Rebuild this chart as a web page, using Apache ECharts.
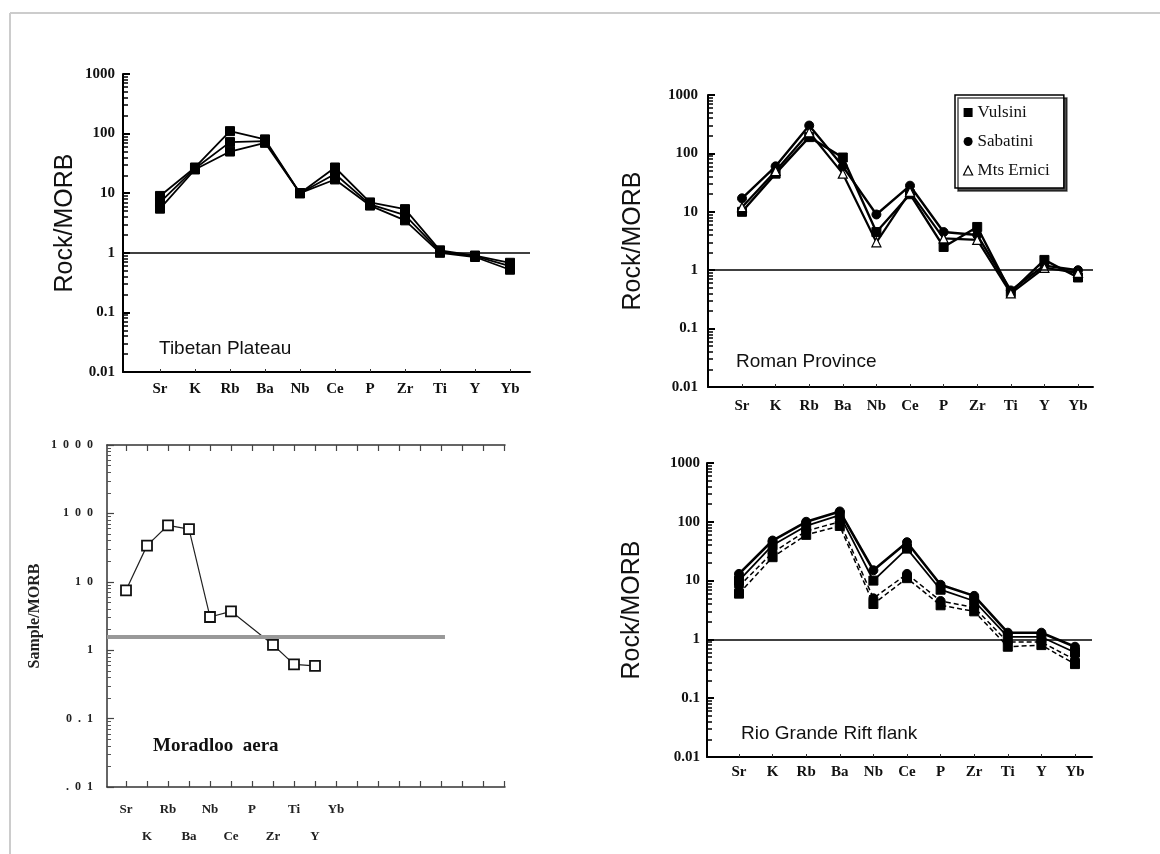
<!DOCTYPE html>
<html>
<head>
<meta charset="utf-8">
<script src="https://cdn.jsdelivr.net/npm/echarts@6/dist/echarts.min.js"></script>
<style>html,body{margin:0;padding:0;background:#fff}#c{width:1160px;height:854px}</style>
</head>
<body>
<div id="c"></div>
<script>
// ---------- DATA ----------
const elements = ['Sr','K','Rb','Ba','Nb','Ce','P','Zr','Ti','Y','Yb'];
const logTickLabels = ['0.01','0.1','1','10','100','1000'];
const moradTickLabels = ['.  0  1','0  .  1','1','1  0','1  0  0','1  0  0  0'];

// Tibetan Plateau
const tibetA = [9, 27, 110, 80, 10, 27, 7, 5.4, 1.1, 0.9, 0.68];
const tibetB = [7, 26, 72, 75, 10, 21, 6.5, 4.3, 1.05, 0.88, 0.6];
const tibetC = [5.5, 25, 50, 70, 10, 17, 6.2, 3.5, 1.0, 0.85, 0.52];

// Roman Province
const romanNames = ['Vulsini', 'Sabatini', 'Mts Ernici'];
const vulsini  = [10, 45, 190, 85, 4.5, 20, 2.5, 5.5, 0.42, 1.5, 0.75];
const sabatini = [17, 60, 300, 60, 9, 28, 4.5, 4, 0.45, 1.2, 1.0];
const ernici   = [12, 50, 230, 45, 3, 22, 3.5, 3.3, 0.4, 1.1, 0.9];

// Moradloo aera (no P, no Yb)
const moradloo = [7.5, 33.8, 67, 59, 3.06, 3.7, null, 1.2, 0.62, 0.59, null];
const moradRefValue = 1.55;

// Rio Grande Rift flank
const rioA = [13, 48, 100, 150, 15, 45, 8.5, 5.5, 1.3, 1.3, 0.75];
const rioB = [10, 40, 85, 130, 10, 35, 7, 4.5, 1.1, 1.1, 0.6];
const rioC = [8, 30, 70, 100, 5, 13, 4.5, 3.5, 0.9, 0.9, 0.45];
const rioD = [6, 25, 60, 85, 4, 11, 3.8, 3, 0.75, 0.8, 0.38];

// ---------- HELPERS ----------
const pts = arr => arr.map((v, i) => [i, v == null ? '-' : v]);
const idx = elements.map((e, i) => i);
const serif = 'Liberation Serif';
const sans = 'Liberation Sans';
const logLabel = labels => v => labels[Math.round(Math.log10(v)) + 2];
const elemLabel = v => elements[Math.round(v)] || '';

function yLog(gi, name, opt) {
  return Object.assign({
    type: 'log', logBase: 10, min: 0.01, max: 1000, gridIndex: gi,
    name: name, nameLocation: 'middle', nameGap: 45,
    nameTextStyle: {fontFamily: sans, fontSize: 25, color: '#111'},
    axisLine: {show: true, onZero: false, lineStyle: {color: '#000', width: 2}},
    axisTick: {show: true, inside: true, length: 7, lineStyle: {color: '#000', width: 2}},
    minorTick: {show: true, splitNumber: 9, length: 5, lineStyle: {color: '#000', width: 1.5}},
    splitLine: {show: false},
    axisLabel: {formatter: logLabel(logTickLabels), fontFamily: serif, fontSize: 15, fontWeight: 'bold', color: '#111', margin: 8}
  }, opt || {});
}
function xVal(gi, min, max, opt) {
  return Object.assign({
    type: 'value', gridIndex: gi, min: min, max: max,
    axisLine: {show: true, onZero: false, lineStyle: {color: '#000', width: 2}},
    axisTick: {show: true, inside: true, length: 3, customValues: idx, lineStyle: {color: '#333', width: 1}},
    splitLine: {show: false},
    axisLabel: {customValues: idx, formatter: elemLabel, fontFamily: serif, fontSize: 15, fontWeight: 'bold', color: '#111', margin: 10}
  }, opt || {});
}
function line(name, arr, gi, sym, extra) {
  return Object.assign({
    name: name, type: 'line', xAxisIndex: gi, yAxisIndex: gi,
    data: pts(arr), symbol: sym, symbolSize: 9, showSymbol: true,
    lineStyle: {color: '#000', width: 1.8},
    itemStyle: {color: '#000', borderColor: '#000'},
    animation: false, z: 3
  }, extra || {});
}
const unityLine = {silent: true, symbol: 'none', label: {show: false},
  lineStyle: {color: '#000', width: 1.6, type: 'solid'}, data: [{yAxis: 1}], animation: false};
const moradTicks = Array.from({length: 19}, (_, i) => i);

const chart = echarts.init(document.getElementById('c'), null, {renderer: 'canvas'});
const option = {
  backgroundColor: '#fff',
  animation: false,
  title: [
    {text: 'Tibetan Plateau', left: 154, top: 334, textStyle: {fontFamily: sans, fontSize: 19, fontWeight: 'normal', color: '#111'}},
    {text: 'Roman Province', left: 731, top: 347, textStyle: {fontFamily: sans, fontSize: 19, fontWeight: 'normal', color: '#111'}},
    {text: 'Moradloo  aera', left: 148, top: 732, textStyle: {fontFamily: serif, fontSize: 19, fontWeight: 'bold', color: '#111'}},
    {text: 'Rio Grande Rift flank', left: 736, top: 719, textStyle: {fontFamily: sans, fontSize: 19, fontWeight: 'normal', color: '#111'}}
  ],
  legend: {
    data: [
      {name: romanNames[0], icon: 'rect'},
      {name: romanNames[1], icon: 'circle'},
      {name: romanNames[2], icon: 'triangle', itemStyle: {color: '#fff', borderColor: '#000', borderWidth: 1.2}}
    ],
    orient: 'vertical', left: 955, top: 95,
    padding: [9, 14, 9, 8], itemGap: 12, itemWidth: 9, itemHeight: 9,
    borderColor: '#000', borderWidth: 1.5, borderRadius: 0,
    shadowColor: 'rgba(0,0,0,0.7)', shadowOffsetX: 3, shadowOffsetY: 3, shadowBlur: 0,
    backgroundColor: '#fff',
    textStyle: {fontFamily: serif, fontSize: 17, color: '#111'},
    selectedMode: false
  },
  grid: [
    {left: 123, top: 74, width: 407, height: 298},
    {left: 708, top: 95, width: 385, height: 292},
    {left: 107, top: 445, width: 398, height: 342},
    {left: 707, top: 463, width: 385, height: 294}
  ],
  xAxis: [
    xVal(0, -1.057, 10.571),
    xVal(1, -1.012, 10.446, {axisLabel: {customValues: idx, formatter: elemLabel, fontFamily: serif, fontSize: 15, fontWeight: 'bold', color: '#111', margin: 12}}),
    xVal(2, -0.905, 18.048, {
      axisLine: {show: true, onZero: false, lineStyle: {color: '#333', width: 1.5}},
      axisTick: {show: true, inside: true, length: 6, customValues: moradTicks, lineStyle: {color: '#444', width: 1.2}},
      axisLabel: {customValues: idx, formatter: v => { const i = Math.round(v); return i % 2 === 0 ? elements[i] : '\n' + elements[i]; },
        fontFamily: serif, fontSize: 13, fontWeight: 'bold', color: '#222', margin: 9, lineHeight: 27}
    }),
    xVal(3, -0.952, 10.506, {axisLabel: {customValues: idx, formatter: elemLabel, fontFamily: serif, fontSize: 15, fontWeight: 'bold', color: '#111', margin: 8}}),
    // top frame of Moradloo
    {type: 'value', gridIndex: 2, position: 'top', min: -0.905, max: 18.048,
      axisLine: {show: true, onZero: false, lineStyle: {color: '#333', width: 1.5}},
      axisTick: {show: true, inside: true, length: 6, customValues: moradTicks, lineStyle: {color: '#444', width: 1.2}},
      axisLabel: {show: false}, splitLine: {show: false}}
  ],
  yAxis: [
    yLog(0, 'Rock/MORB', {nameGap: 45}),
    yLog(1, 'Rock/MORB', {nameGap: 62, axisLabel: {formatter: logLabel(logTickLabels), fontFamily: serif, fontSize: 15, fontWeight: 'bold', color: '#111', margin: 10}}),
    yLog(2, 'Sample/MORB', {
      nameGap: 64, nameTextStyle: {fontFamily: serif, fontSize: 16, fontWeight: 'bold', color: '#222'},
      axisLine: {show: true, onZero: false, lineStyle: {color: '#333', width: 1.5}},
      axisTick: {show: true, inside: true, length: 7, lineStyle: {color: '#444', width: 1.2}},
      minorTick: {show: true, splitNumber: 9, length: 4, lineStyle: {color: '#555', width: 1}},
      axisLabel: {formatter: logLabel(moradTickLabels), fontFamily: serif, fontSize: 12, fontWeight: 'bold', color: '#222', margin: 14}
    }),
    yLog(3, 'Rock/MORB', {nameGap: 62, axisLabel: {formatter: logLabel(logTickLabels), fontFamily: serif, fontSize: 15, fontWeight: 'bold', color: '#111', margin: 7}})
  ],
  series: [
    line('Tibet A', tibetA, 0, 'rect', {markLine: unityLine}),
    line('Tibet B', tibetB, 0, 'rect'),
    line('Tibet C', tibetC, 0, 'rect'),

    line(romanNames[0], vulsini, 1, 'rect', {markLine: unityLine, lineStyle: {color: '#000', width: 2.4}}),
    line(romanNames[1], sabatini, 1, 'circle', {lineStyle: {color: '#000', width: 2.4}}),
    line(romanNames[2], ernici, 1, 'triangle', {lineStyle: {color: '#000', width: 2.2},
      itemStyle: {color: '#fff', borderColor: '#000', borderWidth: 1.2}}),

    line('Moradloo', moradloo, 2, 'rect', {
      connectNulls: true, symbolSize: 10,
      lineStyle: {color: '#222', width: 1.2},
      itemStyle: {color: '#fff', borderColor: '#111', borderWidth: 1.8},
      markLine: {silent: true, symbol: 'none', label: {show: false},
        lineStyle: {color: '#999', width: 4, type: 'solid'},
        data: [[{coord: [-0.905, moradRefValue]}, {coord: [15.19, moradRefValue]}]]}
    }),

    line('Rio A', rioA, 3, 'circle', {markLine: unityLine, lineStyle: {color: '#000', width: 2.6}}),
    line('Rio B', rioB, 3, 'rect', {lineStyle: {color: '#000', width: 1.8}}),
    line('Rio C', rioC, 3, 'circle', {lineStyle: {color: '#000', width: 1.5, type: [5, 3]}}),
    line('Rio D', rioD, 3, 'rect', {lineStyle: {color: '#000', width: 1.5, type: [5, 3]}})
  ],
  graphic: [
    {type: 'line', shape: {x1: 10, y1: 13, x2: 1160, y2: 13}, style: {stroke: '#ccc', lineWidth: 2}, silent: true},
    {type: 'line', shape: {x1: 10, y1: 13, x2: 10, y2: 854}, style: {stroke: '#ccc', lineWidth: 2}, silent: true}
  ]
};
chart.setOption(option);
</script>
</body>
</html>
